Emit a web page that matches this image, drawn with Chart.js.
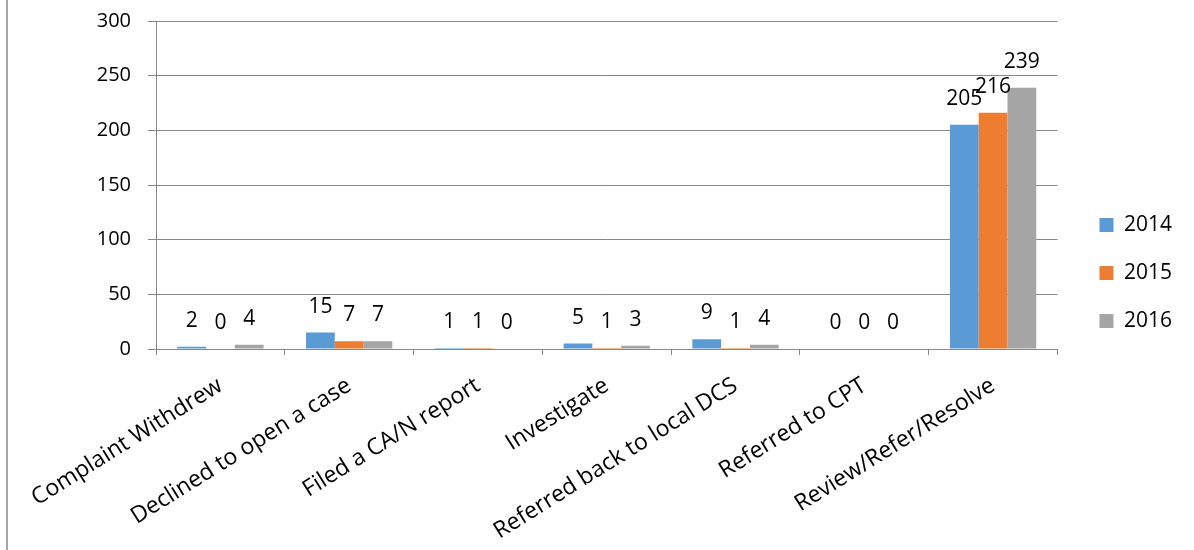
<!DOCTYPE html>
<html>
<head>
<meta charset="utf-8">
<script src="https://cdn.jsdelivr.net/npm/chart.js@4.4.1/dist/chart.umd.min.js"></script>
<style>
  html, body { margin: 0; padding: 0; background: #ffffff; }
  #wrap { position: relative; width: 1194px; height: 550px; overflow: hidden; }
  #chart { position: absolute; left: 0; top: 0; }
  #frame { position: absolute; left: 6px; top: 0; width: 0; height: 550px; border-left: 2px solid #a6a6a6; }
</style>
</head>
<body>
<div id="wrap">
  <canvas id="chart" width="1194" height="550"></canvas>
  <div id="frame"></div>
</div>
<script>
// Outcome categories
const categories = [
  'Complaint Withdrew',
  'Declined to open a case',
  'Filed a CA/N report',
  'Investigate',
  'Referred back to local DCS',
  'Referred to CPT',
  'Review/Refer/Resolve'
];

// Counts per year
const years = ['2014', '2015', '2016'];
const values2014 = [2, 15, 1, 5, 9, 0, 205];
const values2015 = [0, 7, 1, 1, 1, 0, 216];
const values2016 = [4, 7, 0, 3, 4, 0, 239];

// Y axis range and step
const yMin = 0;
const yMax = 300;
const yStep = 50;

const FONT = '"Open Sans", "Liberation Sans", sans-serif';
const GRID = '#878787';

// Writes each bar's value just above it
const valueLabels = {
  id: 'valueLabels',
  afterDatasetsDraw(chart) {
    const ctx = chart.ctx;
    ctx.save();
    ctx.font = '21px ' + FONT;
    ctx.fillStyle = '#000000';
    ctx.textAlign = 'center';
    ctx.textBaseline = 'middle';
    chart.data.datasets.forEach((ds, i) => {
      const meta = chart.getDatasetMeta(i);
      meta.data.forEach((bar, j) => {
        ctx.fillText(String(ds.data[j]), bar.x, bar.y - 26);
      });
    });
    ctx.restore();
  }
};

// Blank spacer axis: reserves room without drawing anything
function spacer(position, size) {
  const horizontal = position === 'top' || position === 'bottom';
  return {
    type: 'linear',
    position: position,
    display: true,
    grid: { display: false, drawTicks: false },
    border: { display: false },
    ticks: { display: false },
    afterFit(scale) {
      if (horizontal) { scale.height = size; } else { scale.width = size; }
    }
  };
}

new Chart(document.getElementById('chart'), {
  type: 'bar',
  data: {
    labels: categories,
    datasets: [
      { label: years[0], data: values2014, backgroundColor: '#5b9bd5' },
      { label: years[1], data: values2015, backgroundColor: '#ed7d31' },
      { label: years[2], data: values2016, backgroundColor: '#a5a5a5' }
    ]
  },
  options: {
    responsive: false,
    animation: false,
    devicePixelRatio: 1,
    datasets: {
      bar: { categoryPercentage: 0.67, barPercentage: 1.0, borderWidth: 0 }
    },
    layout: { padding: { left: 8, top: 0, right: 12, bottom: 4 } },
    plugins: {
      legend: {
        position: 'right',
        labels: {
          boxWidth: 14,
          boxHeight: 14,
          padding: 27,
          color: '#000000',
          font: { family: FONT, size: 21 }
        }
      },
      tooltip: { enabled: false }
    },
    scales: {
      x: {
        grid: {
          display: true,
          drawOnChartArea: false,
          drawTicks: true,
          tickLength: 6,
          offset: true,
          color: GRID
        },
        border: { color: GRID },
        ticks: {
          autoSkip: false,
          minRotation: 32,
          maxRotation: 32,
          padding: 17,
          color: '#000000',
          font: { family: FONT, size: 23 }
        },
        afterFit(scale) { scale.height = 197; }
      },
      y: {
        min: yMin,
        max: yMax,
        grid: { color: GRID, tickLength: 8 },
        border: { color: GRID },
        ticks: {
          stepSize: yStep,
          padding: 17,
          color: '#000000',
          font: { family: FONT, size: 20 }
        },
        afterFit(scale) {
          scale.width = 148;
          scale.paddingTop = 8;
          scale.paddingBottom = 8;
        }
      },
      topGap: spacer('top', 21),
      rightGap: spacer('right', 15)
    }
  },
  plugins: [valueLabels]
});
</script>
</body>
</html>
